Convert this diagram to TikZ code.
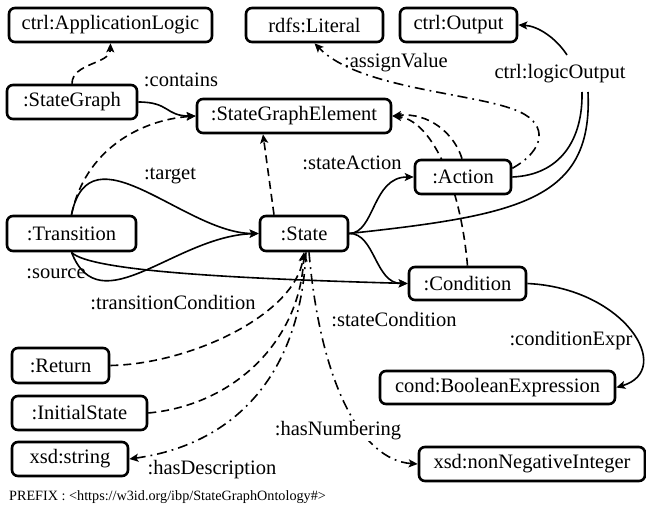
\documentclass[tikz,border=0pt]{standalone}
\usepackage{fontspec}
\setmainfont{Liberation Serif}
\usetikzlibrary{arrows.meta}
\pgfdeclarelayer{background}
\pgfsetlayers{background,main}

\begin{document}
\begin{tikzpicture}[x=1pt,y=-1pt,
  box/.style={draw, line width=2.6pt, rounded corners=6pt, fill=white,
    inner sep=0pt, font=\fontsize{20.5}{24}\selectfont},
  lbl/.style={inner sep=1pt, font=\fontsize{20.5}{24}\selectfont},
  rel/.style={line width=1.6pt},
  isa/.style={rel, dash pattern=on 8pt off 5pt},
  dprop/.style={rel, dash pattern=on 10pt off 5pt on 1.8pt off 5pt},
  arr/.style={-{Stealth[length=9pt,width=8pt,inset=2pt]}}]

\useasboundingbox (0,0) rectangle (646,516);

% classes and datatypes
\node[box, minimum width=203, minimum height=34] (al)   at (110.5,25)  {ctrl:ApplicationLogic};
\node[box, minimum width=137, minimum height=34] (lit)  at (314.5,25)  {rdfs:Literal};
\node[box, minimum width=117, minimum height=34] (out)  at (458.5,25)  {ctrl:Output};
\node[box, minimum width=130, minimum height=34] (sg)   at (72,102)    {:StateGraph};
\node[box, minimum width=194, minimum height=34] (sge)  at (294,116)   {:StateGraphElement};
\node[box, minimum width=96,  minimum height=34] (act)  at (463,177)   {:Action};
\node[box, minimum width=129, minimum height=35] (tr)   at (71.5,233.5){:Transition};
\node[box, minimum width=88,  minimum height=35] (st)   at (304,233.5) {:State};
\node[box, minimum width=117, minimum height=33] (cond) at (467.5,283.5){:Condition};
\node[box, minimum width=97,  minimum height=35] (ret)  at (60.5,365.5) {:Return};
\node[box, minimum width=135, minimum height=34] (init) at (79.5,413)  {:InitialState};
\node[box, minimum width=116, minimum height=34] (xs)   at (70,459)    {xsd:string};
\node[box, minimum width=235, minimum height=33] (bool) at (497.5,387.5){cond:BooleanExpression};
\node[box, minimum width=226, minimum height=34] (nni)  at (532,464)   {xsd:nonNegativeInteger};

% ends of the logicOutput links around their label
\coordinate (loa) at (582,92);
\coordinate (los) at (588,92);
\coordinate (lot) at (567,55);

% subclass links
\draw[isa,arr] (sg.north) .. controls (72,63) and (110,64) .. (al.south);
\draw[isa,arr] (tr.north) .. controls (85,150) and (140,120) .. (sge.west);
\draw[isa,arr] ([xshift=-30]st.north) -- ([xshift=-31]sge.south);
\draw[isa,arr] ([xshift=-1]act.north) .. controls (455,135) and (430,112) .. (sge.east);
\begin{pgfonlayer}{background}
\draw[isa,arr] (cond.north) .. controls (460,180) and (430,120) .. (sge.east);
\end{pgfonlayer}
\draw[isa,arr] (ret.east) .. controls (190,364) and (295,315) .. (st.south);
\draw[isa,arr] (init.east) .. controls (235,405) and (300,340) .. (st.south);

% object properties
\draw[rel,arr] (sg.east) .. controls (170,102) and (165,116) .. (sge.west);
\draw[rel,arr] (tr.north) .. controls (90,125) and (185,233.5) .. (st.west);
\draw[rel,arr] (tr.south) .. controls (100,325) and (175,236) .. (st.west);
\draw[rel,arr] (tr.south) .. controls (90,272) and (250,279) .. (cond.west);
\draw[rel,arr] (st.east) .. controls (375,233) and (372,177) .. (act.west);
\draw[rel,arr] (st.east) .. controls (375,233) and (375,283.5) .. (cond.west);
\draw[rel,arr] (cond.east) .. controls (625,288) and (675,370) .. (bool.east);
\draw[rel] (act.east) .. controls (560,175) and (583,140) .. (loa);
\draw[rel] (st.east) .. controls (520,215) and (593,200) .. (los);
\draw[rel,arr] (lot) .. controls (556,38) and (538,26) .. (out.east);

% datatype properties
\draw[dprop,arr] (act.10) .. controls (545,150) and (548,125) .. (520,112)
  .. controls (480,93) and (360,90) .. (lit.south);
\draw[dprop,arr] ([xshift=2]st.south) .. controls (300,380) and (230,445) .. (xs.east);
\draw[dprop,arr] ([xshift=5]st.south) .. controls (320,380) and (360,460) .. (nni.west);

% property labels
\node[lbl] (lcontains) at (181,80)  {:contains};
\node[lbl] (lassign)   at (396,63)  {:assignValue};
\node[lbl] (llogic)    at (560,74)  {ctrl:logicOutput};
\node[lbl] (lsact)     at (352,163) {:stateAction};
\node[lbl] (ltarget)   at (170,176) {:target};
\node[lbl] (lsource)   at (56,274)  {:source};
\node[lbl] (ltcond)    at (173,303) {:transitionCondition};
\node[lbl] (lscond)    at (394,320) {:stateCondition};
\node[lbl] (lcexpr)    at (571,341) {:conditionExpr};
\node[lbl, fill=white] (lnum) at (338,431) {:hasNumbering};
\node[lbl] (ldesc)     at (212,470) {:hasDescription};

\node[anchor=west, inner sep=0pt, font=\fontsize{14.2}{17}\selectfont] (prefix) at (9,497)
  {PREFIX : <https://w3id.org/ibp/StateGraphOntology\#>};
\end{tikzpicture}
\end{document}
